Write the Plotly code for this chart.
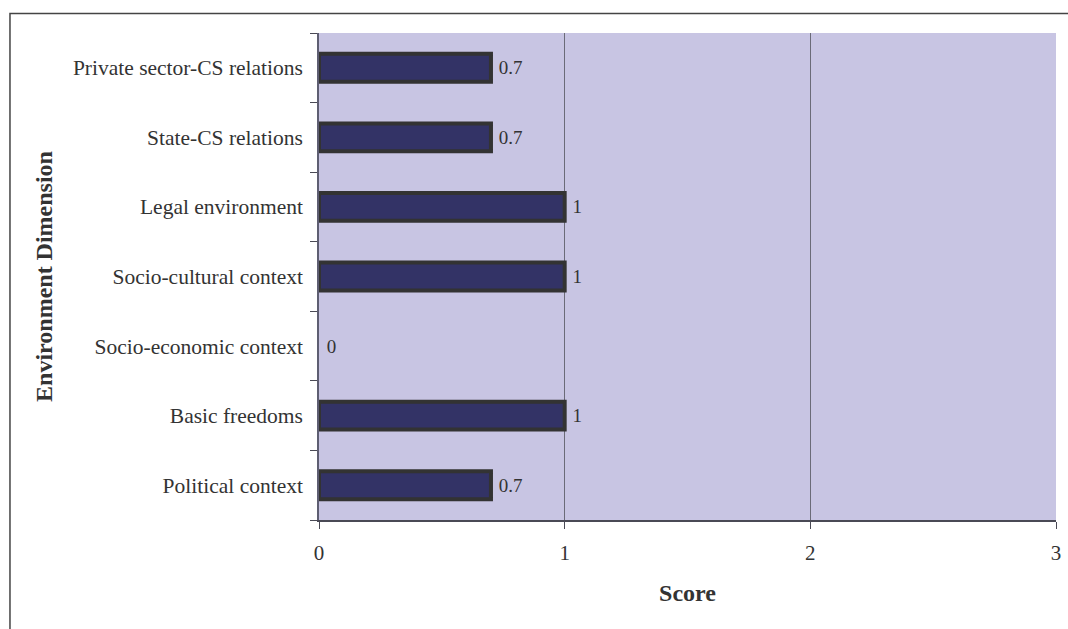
import plotly.graph_objects as go

categories = ["Political context", "Basic freedoms", "Socio-economic context",
              "Socio-cultural context", "Legal environment", "State-CS relations",
              "Private sector-CS relations"]
values = [0.7, 1, 0, 1, 1, 0.7, 0.7]
labels = ["0.7", "1", "0", "1", "1", "0.7", "0.7"]
x_ticks = [0, 1, 2, 3]

FONT = "Liberation Serif"
TXT = "#333333"

fig = go.Figure()
fig.add_trace(go.Bar(
    y=categories, x=values, orientation="h",
    width=0.4,
    marker=dict(color="#333366",
                line=dict(color="#333333", width=[4 if v > 0 else 0 for v in values])),
    text=["\u00a0" + t for t in labels], textposition="outside", cliponaxis=False,
    textfont=dict(family=FONT, size=19, color=TXT),
    hoverinfo="skip",
))

fig.update_layout(
    width=1068, height=629,
    margin=dict(l=319, r=12, t=33, b=109, autoexpand=False),
    paper_bgcolor="white",
    plot_bgcolor="#C8C5E3",
    showlegend=False,
    font=dict(family=FONT, size=21, color=TXT),
    shapes=[dict(type="rect", xref="paper", yref="paper",
                 x0=-0.4193, x1=1.1, y0=-0.3, y1=1.040,
                 line=dict(color="#444444", width=1.5), layer="below")],
)
fig.update_xaxes(
    range=[0, 3], tickvals=x_ticks, ticktext=[str(v) for v in x_ticks],
    automargin=False,
    showgrid=True, gridcolor="#6b6b78", gridwidth=1,
    zeroline=False,
    showline=True, linecolor="#4a4a55", linewidth=1.5,
    ticks="outside", ticklen=7, tickcolor="#4a4a55", tickwidth=1,
    tickfont=dict(family=FONT, size=21, color=TXT),
    ticklabelstandoff=6,
    title=dict(text="<b>Score</b>", font=dict(family=FONT, size=24, color=TXT), standoff=20),
)
fig.update_yaxes(
    categoryorder="array", categoryarray=categories,
    range=[-0.5, 6.5],
    automargin=False,
    showgrid=False, zeroline=False,
    showline=True, linecolor="#5e5e72", linewidth=1.5,
    ticks="outside", ticklen=7, tickcolor="#4a4a55", tickwidth=1,
    tickson="boundaries",
    tickfont=dict(family=FONT, size=21.5, color=TXT),
    ticklabelstandoff=10,
    title=dict(text="<b>Environment Dimension</b>", font=dict(family=FONT, size=24, color=TXT), standoff=14),
)

fig.write_html("out.html")
